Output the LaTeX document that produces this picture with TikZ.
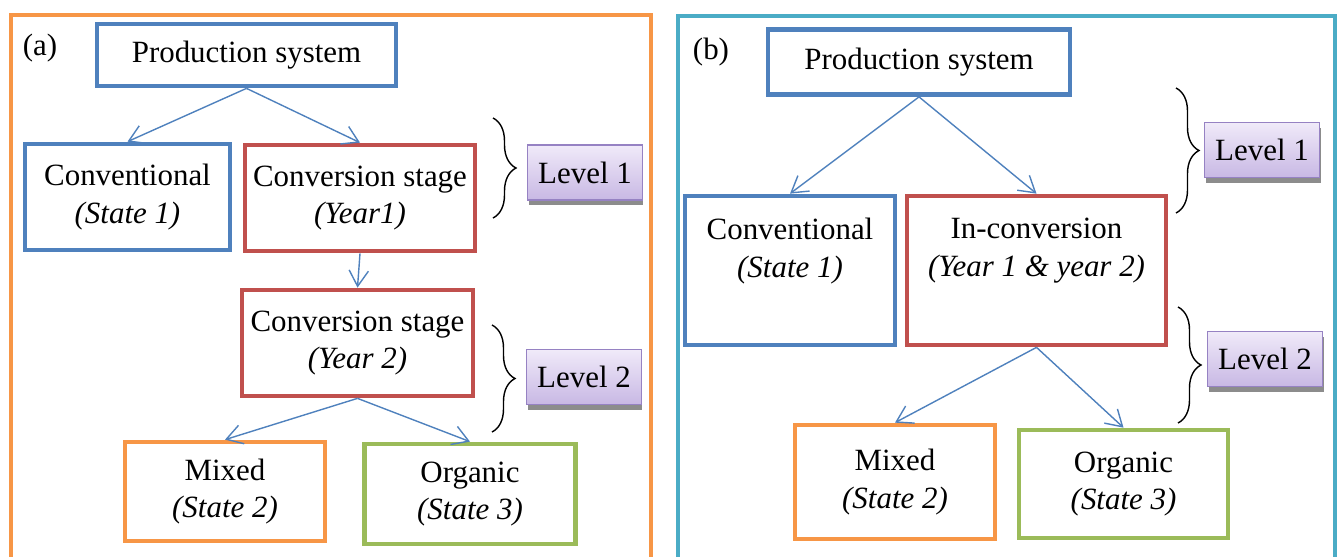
\documentclass[tikz,border=0pt]{standalone}
\usepackage{fontspec}
\setmainfont{Liberation Serif}
\usetikzlibrary{arrows.meta,decorations.pathreplacing,shadows}

\definecolor{boxblue}{RGB}{79,129,189}
\definecolor{boxred}{RGB}{192,80,77}
\definecolor{boxorange}{RGB}{247,150,70}
\definecolor{boxgreen}{RGB}{155,187,89}
\definecolor{frameteal}{RGB}{75,172,198}
\definecolor{levelline}{RGB}{150,130,195}
\definecolor{leveltop}{RGB}{240,234,249}
\definecolor{levelbottom}{RGB}{200,184,228}

\tikzset{
  txt/.style={font=\fontsize{17.6}{21.5}\selectfont, align=center, inner sep=0pt},
  stage/.style={txt, draw, line width=2.7pt},
  inner/.style={txt, anchor=north, yshift=-0.48cm},
  levelbox/.style={txt, draw=levelline, line width=0.8pt, top color=leveltop,
    bottom color=levelbottom, minimum width=2.3cm, minimum height=1.1cm,
    drop shadow={shadow xshift=0.02cm, shadow yshift=-0.1cm, fill=black!45, opacity=1}},
  link/.style={draw=boxblue, line width=0.8pt, -{Straight Barb[length=9pt,width=11pt]}},
  lbrace/.style={decorate, decoration={brace, amplitude=0.46cm}, line width=0.8pt},
  panel/.style={line width=2.8pt}
}

\begin{document}
\begin{tikzpicture}[x=0.02cm, y=-0.02cm]
\useasboundingbox (0,0) rectangle (1339,556);

% panel frames
\draw[panel, boxorange] (11,570) -- (11,15) -- (651,15) -- (651,570);
\draw[panel, frameteal] (678,570) -- (678,16) -- (1335,16) -- (1335,570);
\node[txt] (tagA) at (40,48) {(a)};
\node[txt] (tagB) at (711,52) {(b)};

% (a) stepwise conversion
\node[stage, draw=boxblue, minimum width=5.98cm, minimum height=1.24cm] (psA) at (246.5,55) {Production system};
\node[stage, draw=boxblue, minimum width=4.1cm, minimum height=2.12cm] (convA) at (127.5,197) {Conventional\\\textit{(State 1)}};
\node[stage, draw=boxred, minimum width=4.6cm, minimum height=2.12cm] (yearoneA) at (360,198) {Conversion stage\\\textit{(Year1)}};
\node[stage, draw=boxred, minimum width=4.62cm, minimum height=2.12cm] (yeartwoA) at (357.5,343) {Conversion stage\\\textit{(Year 2)}};
\node[stage, draw=boxorange, minimum width=4.0cm, minimum height=1.98cm] (mixA) at (225,491.5) {Mixed\\\textit{(State 2)}};
\node[stage, draw=boxgreen, minimum width=4.22cm, minimum height=2.0cm] (orgA) at (470,494) {Organic\\\textit{(State 3)}};
\node[levelbox] (levoneA) at (585,172.5) {Level 1};
\node[levelbox] (levtwoA) at (584,377) {Level 2};

\draw[link] (psA.south) -- (convA.north);
\draw[link] (psA.south) -- (yearoneA.north);
\draw[link] (yearoneA.south) -- (yeartwoA.north);
\draw[link] (yeartwoA.south) -- (mixA.north);
\draw[link] (yeartwoA.south) -- (orgA.north);

\coordinate (braceAtop) at (493,118);
\coordinate (braceAbot) at (493,218);
\coordinate (braceBtop) at (492,325);
\coordinate (braceBbot) at (492,432);
\draw[lbrace] (braceAtop) -- (braceAbot);
\draw[lbrace] (braceBtop) -- (braceBbot);

% (b) two-year conversion as one state
\node[stage, draw=boxblue, minimum width=6.04cm, minimum height=1.3cm] (psB) at (919,62) {Production system};
\node[stage, draw=boxblue, minimum width=4.2cm, minimum height=2.98cm,
  label={[inner]north:{Conventional\\\textit{(State 1)}}}] (convB) at (790,270.5) {};
\node[stage, draw=boxred, minimum width=5.18cm, minimum height=2.98cm,
  label={[inner]north:{In-conversion\\\textit{(Year 1 \& year 2)}}}] (incB) at (1036.5,270.5) {};
\node[stage, draw=boxorange, minimum width=4.0cm, minimum height=2.28cm] (mixB) at (895,482) {Mixed\\\textit{(State 2)}};
\node[stage, draw=boxgreen, minimum width=4.18cm, minimum height=2.16cm] (orgB) at (1123.5,484) {Organic\\\textit{(State 3)}};
\node[levelbox] (levoneB) at (1262,150) {Level 1};
\node[levelbox] (levtwoB) at (1265,359) {Level 2};

\draw[link] (psB.south) -- (convB.north);
\draw[link] (psB.south) -- (incB.north);
\draw[link] (incB.south) -- (mixB.north);
\draw[link] (incB.south) -- (orgB.north);

\coordinate (braceCtop) at (1176,88);
\coordinate (braceCbot) at (1176,213);
\coordinate (braceDtop) at (1178,307);
\coordinate (braceDbot) at (1178,423);
\draw[lbrace] (braceCtop) -- (braceCbot);
\draw[lbrace] (braceDtop) -- (braceDbot);

\end{tikzpicture}
\end{document}
